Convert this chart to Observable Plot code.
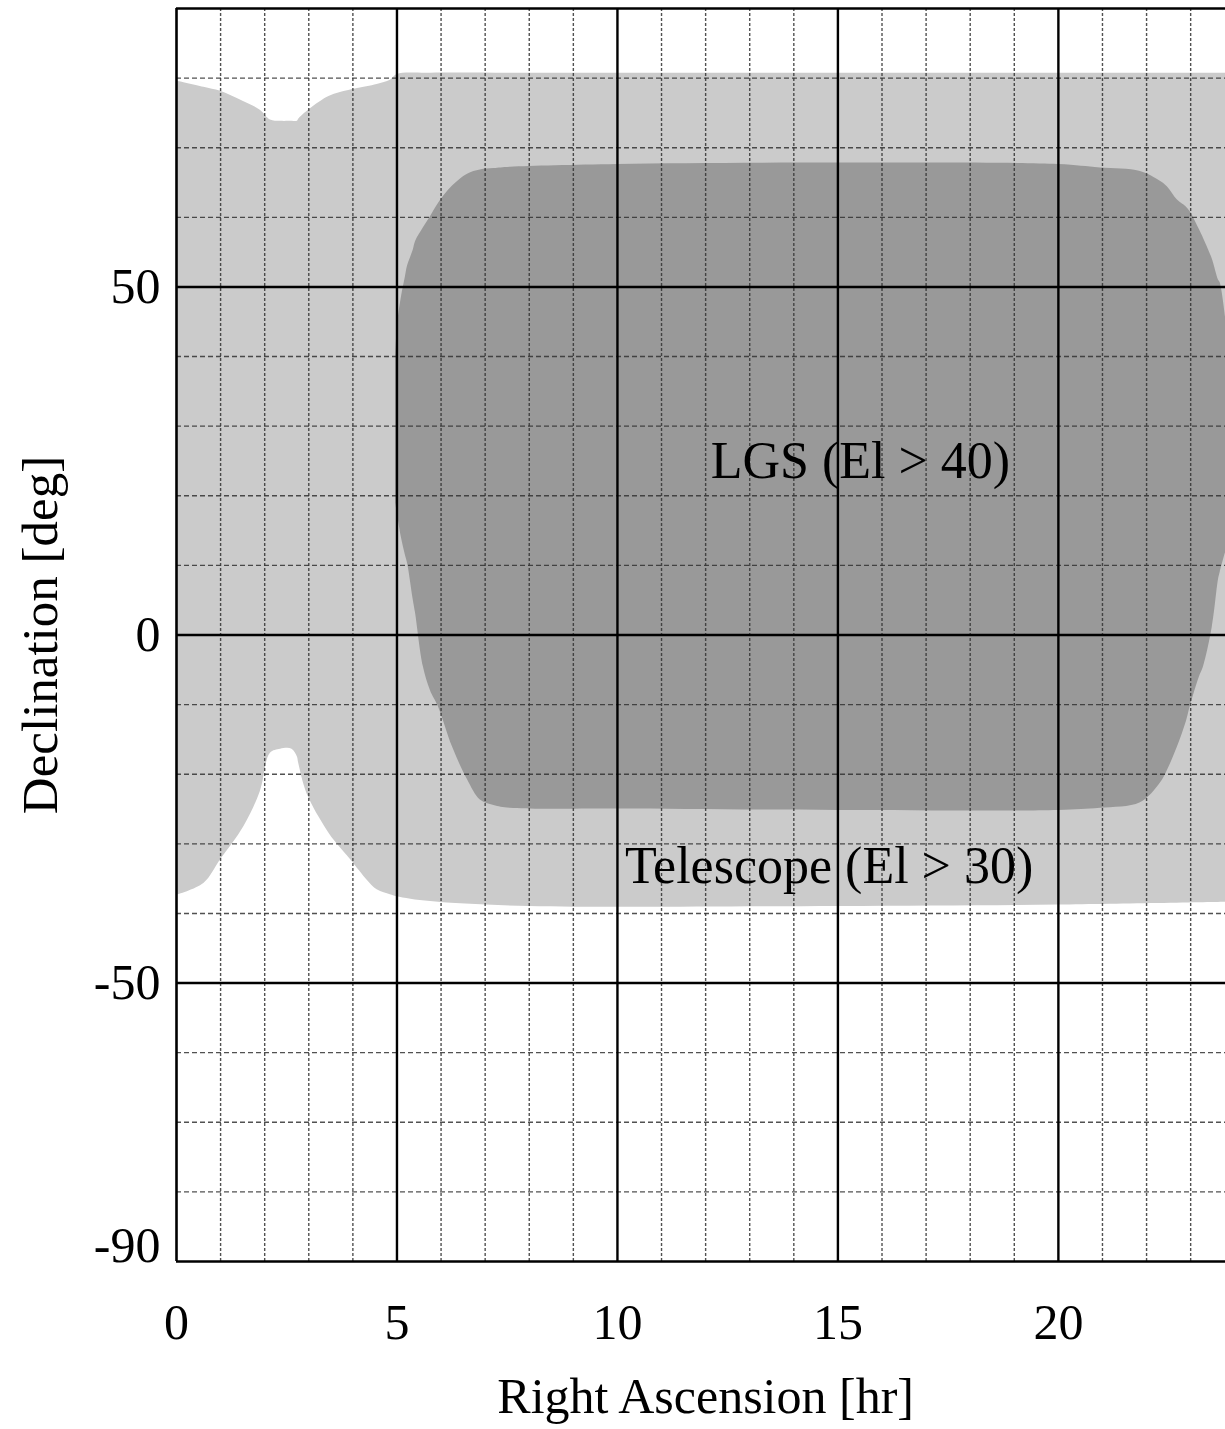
<!DOCTYPE html>
<html><head><meta charset="utf-8">
<script src="https://cdn.jsdelivr.net/npm/d3@7"></script>
<script src="https://cdn.jsdelivr.net/npm/@observablehq/plot@0.6"></script>
<style>
html,body{margin:0;padding:0;background:#fff;overflow:hidden;}
</style>
</head><body><div id="chart"></div>
<script>
// Axis ticks
const xTicks = [0, 5, 10, 15, 20];
const yTicks = [50, 0, -50];
const yBottomTick = [-90];
const xMajor = [5, 10, 15, 20];
const yMajor = [-50, 0, 50];
const xMinor = [1,2,3,4,6,7,8,9,11,12,13,14,16,17,18,19,21,22,23];
const yMinor = [-80,-70,-60,-40,-30,-20,-10,10,20,30,40,60,70,80];

// Telescope (El > 30) region: RA [hr], lower/upper Dec [deg]
const telRA      = [0, 0.62, 1.0, 1.53, 1.9, 2.13, 2.36, 2.62, 2.74, 2.77, 2.96, 3.41, 3.64, 3.95, 4.1, 4.55, 4.85, 5.0, 5.76, 8, 15, 20, 23.79];
const telDecLow  = [-37.4, -35.7, -32.3, -27.5, -22.5, -17.0, -16.4, -16.4, -17.5, -18.4, -22.8, -28.0, -30.0, -32.3, -33.5, -36.6, -37.3, -37.6, -38.3, -39.0, -39.0, -38.8, -38.4];
const telDecHigh = [79.6, 78.7, 78.1, 76.6, 75.4, 74.0, 73.8, 73.8, 73.8, 74.1, 75.2, 77.2, 77.8, 78.3, 78.5, 79.1, 79.7, 80.5, 80.7, 80.7, 80.7, 80.7, 80.7];

// LGS (El > 40) region
const lgsRA      = [4.97, 5.02, 5.1, 5.19, 5.24, 5.37, 5.42, 5.6, 5.76, 5.94, 6.26, 6.6, 6.89, 7.2, 7.57, 10, 15, 20, 20.95, 21.86, 22.31, 22.47, 22.7, 22.9, 22.99, 23.2, 23.29, 23.49, 23.63, 23.67, 23.79];
const lgsDecLow  = [19, 17, 14, 11.5, 10.3, 5, 3.2, -4.6, -8, -10.3, -16.1, -20.8, -23.7, -24.5, -24.9, -25.0, -25.2, -25.2, -24.9, -24.1, -21.3, -19.5, -16.1, -12.5, -10.3, -6.0, -4.6, 1.1, 7.9, 9.0, 11.8];
const lgsDecHigh = [40, 45, 48.5, 51.4, 53, 55.3, 56.5, 58.5, 60.1, 62, 64.5, 66.2, 66.8, 67.0, 67.2, 67.6, 67.8, 67.6, 67.1, 66.6, 65.2, 64.4, 62.5, 61.5, 60.8, 58.2, 57.0, 54.0, 51.0, 50.6, 45.7];

// Annotations
const annoText = ["LGS (El > 40)", "Telescope (El > 30)"];
const annoRA   = [15.51, 14.8];
const annoDec  = [24.9, -33.3];

const tel = telRA.map((x, i) => ({x, lo: telDecLow[i], hi: telDecHigh[i]}));
const lgs = lgsRA.map((x, i) => ({x, lo: lgsDecLow[i], hi: lgsDecHigh[i]}));
const anno = annoText.map((t, i) => ({t, x: annoRA[i], y: annoDec[i]}));

const FONT = "Liberation Serif, Times New Roman, serif";
const fmt = d => String(d);

const chart = Plot.plot({
  width: 1225,
  height: 1429,
  marginLeft: 176,
  marginRight: 0,
  marginTop: 8,
  marginBottom: 168,
  style: {fontFamily: FONT, fontSize: "50px", background: "#fff", color: "#000"},
  x: {domain: [0, 23.79], axis: null},
  y: {domain: [-90, 90], axis: null},
  marks: [
    Plot.areaY(tel, {x: "x", y1: "lo", y2: "hi", fill: "#cbcbcb", curve: "catmull-rom"}),
    Plot.areaY(lgs, {x: "x", y1: "lo", y2: "hi", fill: "#999999", curve: "catmull-rom"}),
    Plot.ruleY(yMinor, {stroke: "#333", strokeWidth: 1.4, strokeOpacity: 0.85, strokeDasharray: "5,3"}),
    Plot.ruleX(xMinor, {stroke: "#333", strokeWidth: 1.4, strokeOpacity: 0.85, strokeDasharray: "3,2"}),
    Plot.ruleX(xMajor, {stroke: "#000", strokeWidth: 2.4}),
    Plot.ruleY(yMajor, {stroke: "#000", strokeWidth: 2.4}),
    Plot.ruleX([0], {stroke: "#000", strokeWidth: 2.6}),
    Plot.ruleY([90, -90], {stroke: "#000", strokeWidth: 2.6}),
    Plot.text(anno, {x: "x", y: "y", text: "t", fontSize: 52, fill: "#000", textAnchor: "middle"}),
    Plot.axisX(xTicks, {tickSize: 0, tickPadding: 42, fontSize: 50, label: null, fill: "#000", tickFormat: fmt}),
    Plot.axisY(yTicks, {tickSize: 0, tickPadding: 16, fontSize: 50, label: null, fill: "#000", tickFormat: fmt}),
    Plot.axisY(yBottomTick, {tickSize: 0, tickPadding: 16, fontSize: 50, label: null, dy: -16, fill: "#000", tickFormat: fmt}),
    Plot.text([12], {x: d => d, frameAnchor: "bottom", text: () => "Right Ascension [hr]", dy: 151, fontSize: 50, fill: "#000", textAnchor: "middle"}),
    Plot.text([0], {y: d => d, frameAnchor: "left", text: () => "Declination [deg]", rotate: -90, dx: -136, fontSize: 51, fill: "#000", textAnchor: "middle"})
  ]
});
document.getElementById("chart").appendChild(chart);
</script>
</body></html>
